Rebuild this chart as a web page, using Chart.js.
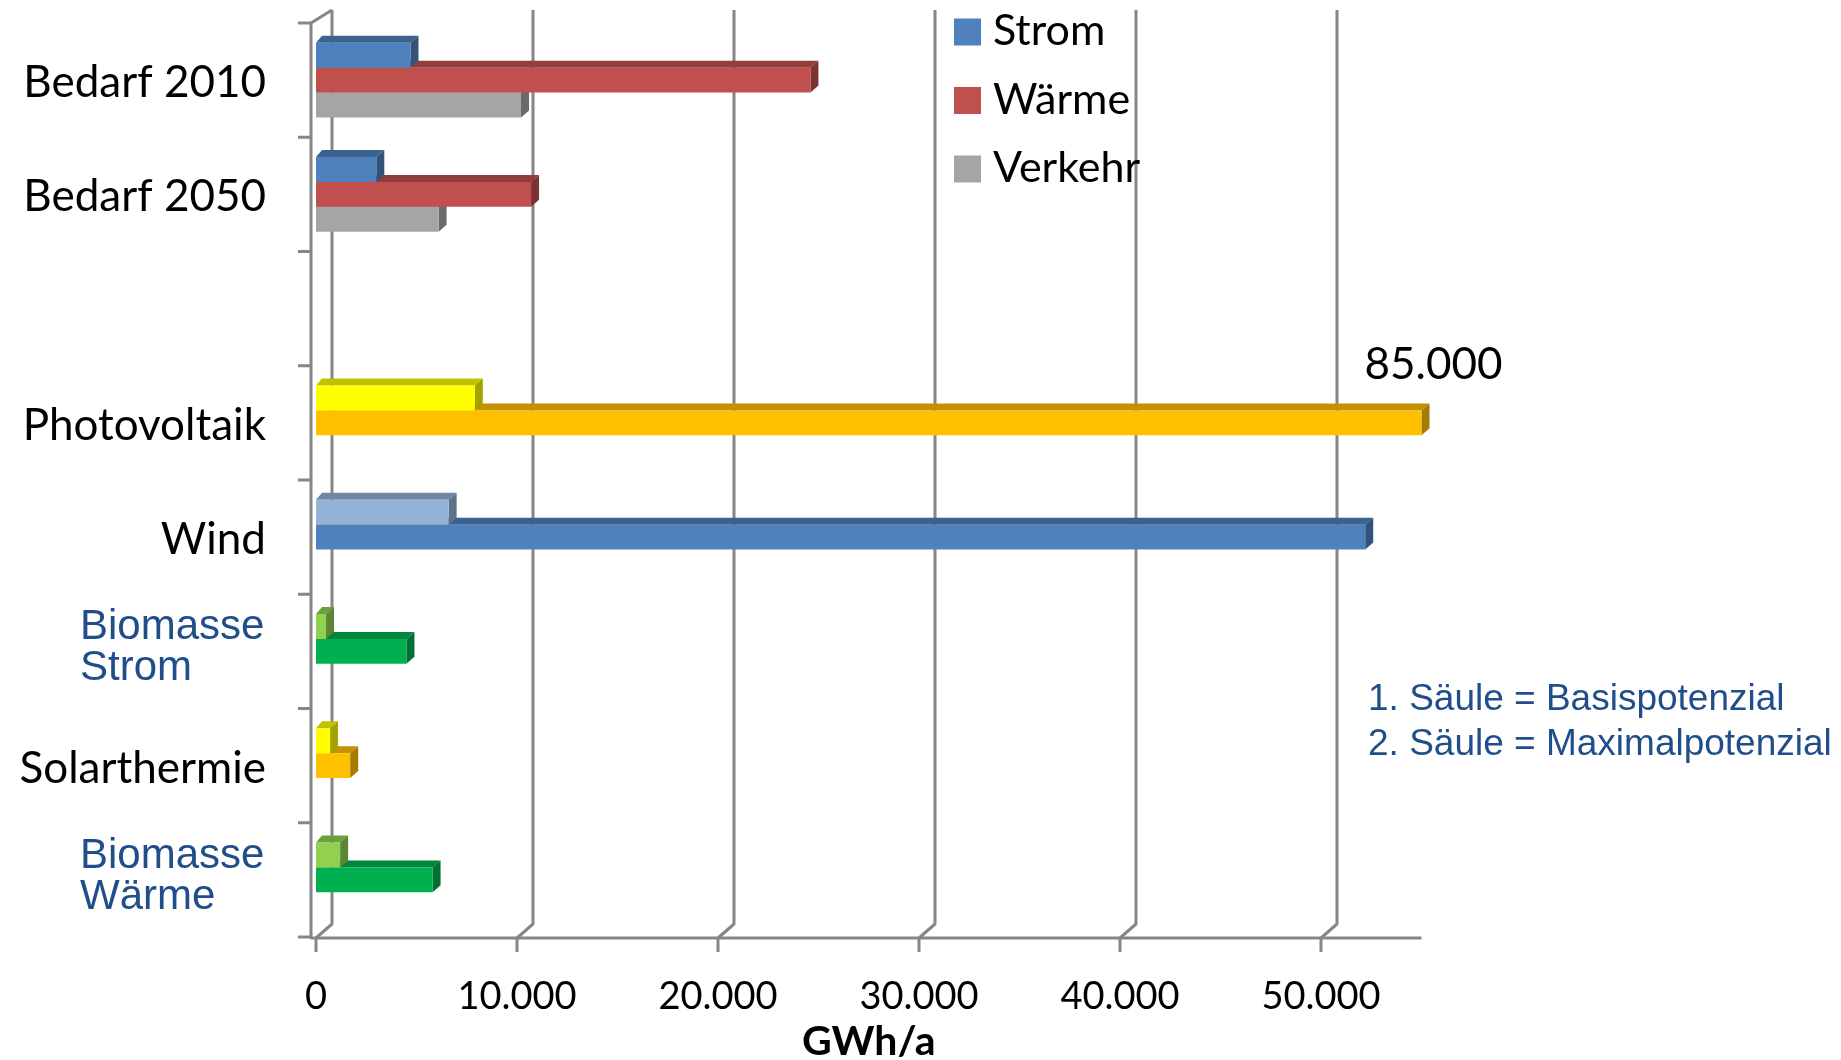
<!DOCTYPE html>
<html>
<head>
<meta charset="utf-8">
<script src="https://cdn.jsdelivr.net/npm/chart.js@4/dist/chart.umd.min.js"></script>
<style>
  html, body { margin: 0; padding: 0; background: #ffffff; }
  #wrap { position: relative; width: 1841px; height: 1060px; }
</style>
</head>
<body>
<div id="wrap"><canvas id="chart" width="1841" height="1060"></canvas></div>
<script>
// ---- data (GWh/a) ----
const categories = ['Bedarf 2010', 'Bedarf 2050', '', 'Photovoltaik', 'Wind',
                    ['Biomasse', 'Strom'], 'Solarthermie', ['Biomasse', 'Wärme']];
// 1st column: Strom (Bedarf) / Basispotenzial
const firstColumn  = [4700, 3000, null, 7900, 6600, 500, 700, 1200];
// 2nd column: Wärme (Bedarf) / Maximalpotenzial
const secondColumn = [24600, 10700, null, 85000, 52200, 4500, 1700, 5800];
// 3rd column: Verkehr (Bedarf only)
const thirdColumn  = [10200, 6100, null, null, null, null, null, null];
const xTickValues  = [0, 10000, 20000, 30000, 40000, 50000];
const legendLabels = ['Strom', 'Wärme', 'Verkehr'];
const noteLines    = ['1. Säule = Basispotenzial', '2. Säule = Maximalpotenzial'];
const axisTitle    = 'GWh/a';

// ---- colours ----
const firstColors  = ['#4F81BD', '#4F81BD', null, '#FFFF00', '#95B3D7', '#92D050', '#FFFF00', '#92D050'];
const secondColors = ['#C0504D', '#C0504D', null, '#FFC000', '#4F81BD', '#00B050', '#FFC000', '#00B050'];
const thirdColors  = ['#A5A5A5', '#A5A5A5', null, null, null, null, null, null];
const legendColors = ['#4F81BD', '#C0504D', '#A5A5A5'];
const noteBlue = '#1F4E8A';
const frameGray = '#868686';

const X_MAX = 55000;
const BAR_DX = 8, BAR_DY = 7;      // depth of the 3D bars
const WALL_DX = 16, WALL_DY = 14;  // depth of the back wall

function fmt(v) {
  return String(Math.round(v)).replace(/\B(?=(\d{3})+(?!\d))/g, '.');
}
function shade(hex, f) {
  const n = parseInt(hex.slice(1), 16);
  const r = Math.round(((n >> 16) & 255) * f);
  const g = Math.round(((n >> 8) & 255) * f);
  const b = Math.round((n & 255) * f);
  return `rgb(${r},${g},${b})`;
}

// back wall grid, floor edges and front axes
const frame3d = {
  id: 'frame3d',
  beforeDatasetsDraw(chart) {
    const { ctx, chartArea: a, scales: { x, y } } = chart;
    const axisX = a.left - 5;
    const baseY = a.bottom + 1;
    ctx.save();
    ctx.strokeStyle = frameGray;
    ctx.lineWidth = 3;
    ctx.lineCap = 'butt';
    ctx.lineJoin = 'round';
    xTickValues.forEach(v => {
      const px = x.getPixelForValue(v);
      ctx.beginPath();
      ctx.moveTo(px, baseY);
      ctx.lineTo(px + WALL_DX, baseY - WALL_DY);
      ctx.lineTo(px + WALL_DX, a.top - WALL_DY + 1);
      ctx.stroke();
      ctx.beginPath();
      ctx.moveTo(px, baseY);
      ctx.lineTo(px, baseY + 14);
      ctx.stroke();
    });
    // front value axis
    ctx.beginPath();
    ctx.moveTo(axisX, baseY);
    ctx.lineTo(a.right, baseY);
    ctx.stroke();
    // front category axis with top edge to the wall
    ctx.beginPath();
    ctx.moveTo(axisX + WALL_DX + 5, a.top - WALL_DY + 1);
    ctx.lineTo(axisX, a.top);
    ctx.lineTo(axisX, baseY + 1);
    ctx.stroke();
    // category separators
    const n = categories.length;
    for (let i = 0; i <= n; i++) {
      const py = i === n ? a.bottom : (i === 0 ? a.top : (y.getPixelForValue(i - 1) + y.getPixelForValue(i)) / 2);
      ctx.beginPath();
      ctx.moveTo(axisX - 13, py);
      ctx.lineTo(axisX, py);
      ctx.stroke();
    }
    ctx.restore();
  }
};

// top and side faces of each bar
const faces3d = {
  id: 'faces3d',
  beforeDatasetDraw(chart, args) {
    const { ctx, chartArea } = chart;
    const ds = chart.data.datasets[args.index];
    ctx.save();
    args.meta.data.forEach((bar, i) => {
      if (ds.data[i] == null) return;
      const { x, y, base, height } = bar.getProps(['x', 'y', 'base', 'height'], true);
      const x0 = base, x1 = Math.min(x, chartArea.right);
      const yt = y - height / 2, yb = y + height / 2;
      const c = ds.backgroundColor[i];
      ctx.fillStyle = shade(c, 0.76);
      ctx.beginPath();
      ctx.moveTo(x0, yt);
      ctx.lineTo(x0 + BAR_DX - 2, yt - BAR_DY);
      ctx.lineTo(x1 + BAR_DX, yt - BAR_DY);
      ctx.lineTo(x1, yt);
      ctx.closePath();
      ctx.fill();
      ctx.fillStyle = shade(c, 0.64);
      ctx.beginPath();
      ctx.moveTo(x1, yt);
      ctx.lineTo(x1 + BAR_DX, yt - BAR_DY);
      ctx.lineTo(x1 + BAR_DX, yb - BAR_DY);
      ctx.lineTo(x1, yb);
      ctx.closePath();
      ctx.fill();
    });
    ctx.restore();
  }
};

// category labels, legend, notes and value of bars beyond the axis
const decor = {
  id: 'decor',
  afterDraw(chart) {
    const { ctx, chartArea: a, scales: { y } } = chart;
    ctx.save();
    categories.forEach((lab, i) => {
      const yc = y.getPixelForValue(i);
      if (Array.isArray(lab)) {
        ctx.font = '42px "Liberation Sans", Arial, sans-serif';
        ctx.fillStyle = noteBlue;
        ctx.textAlign = 'left';
        ctx.textBaseline = 'alphabetic';
        ctx.fillText(lab[0], 80, yc - 12);
        ctx.fillText(lab[1], 80, yc + 29);
      } else if (lab) {
        ctx.font = '44px Lato, "Open Sans", sans-serif';
        ctx.fillStyle = '#000000';
        ctx.textAlign = 'right';
        ctx.textBaseline = 'alphabetic';
        ctx.fillText(lab, 266, yc + 17);
      }
    });

    // legend
    legendLabels.forEach((lab, k) => {
      const cy = 32 + k * 68.5;
      ctx.fillStyle = legendColors[k];
      ctx.fillRect(954, cy - 13.5, 27, 27);
      ctx.font = '43px Lato, "Open Sans", sans-serif';
      ctx.fillStyle = '#000000';
      ctx.textAlign = 'left';
      ctx.textBaseline = 'alphabetic';
      ctx.fillText(lab, 993, cy + 13);
    });

    // notes
    ctx.font = '37px "Liberation Sans", Arial, sans-serif';
    ctx.fillStyle = noteBlue;
    ctx.textAlign = 'left';
    noteLines.forEach((t, k) => ctx.fillText(t, 1368, 710 + k * 45));

    // values of bars cut off at the axis end
    chart.data.datasets.forEach((ds, di) => {
      const meta = chart.getDatasetMeta(di);
      ds.data.forEach((v, i) => {
        if (v == null || v <= X_MAX) return;
        const bar = meta.data[i];
        const { height, y: by } = bar.getProps(['y', 'height'], true);
        ctx.font = '44px Lato, "Open Sans", sans-serif';
        ctx.fillStyle = '#000000';
        ctx.textAlign = 'center';
        ctx.textBaseline = 'alphabetic';
        ctx.fillText(fmt(v), a.right + BAR_DX + 4, by - height / 2 - 31);
      });
    });
    ctx.restore();
  }
};

const common = { borderWidth: 0, barPercentage: 1, categoryPercentage: 0.656, clip: 0 };

new Chart(document.getElementById('chart'), {
  type: 'bar',
  data: {
    labels: categories,
    datasets: [
      Object.assign({ label: legendLabels[0], data: firstColumn,  backgroundColor: firstColors }, common),
      Object.assign({ label: legendLabels[1], data: secondColumn, backgroundColor: secondColors }, common),
      Object.assign({ label: legendLabels[2], data: thirdColumn,  backgroundColor: thirdColors }, common)
    ]
  },
  options: {
    indexAxis: 'y',
    responsive: false,
    animation: false,
    events: [],
    layout: { padding: { left: 0, right: 419.5, top: 23, bottom: 0 } },
    plugins: { legend: { display: false }, tooltip: { enabled: false } },
    scales: {
      y: {
        type: 'category',
        ticks: { display: false },
        grid: { display: false },
        border: { display: false },
        afterFit(s) { s.width = 316; }
      },
      x: {
        type: 'linear',
        min: 0,
        max: X_MAX,
        afterBuildTicks(s) { s.ticks = xTickValues.map(v => ({ value: v })); },
        ticks: {
          callback: v => fmt(v),
          color: '#000000',
          font: { family: 'Lato, "Open Sans", sans-serif', size: 38 },
          padding: 37,
          maxRotation: 0,
          autoSkip: false
        },
        grid: { display: false, drawTicks: false, tickLength: 0 },
        border: { display: false },
        title: {
          display: true,
          text: axisTitle,
          color: '#000000',
          font: { family: 'Lato, "Open Sans", sans-serif', size: 41, weight: 'bold' },
          padding: { top: 0, bottom: -6 }
        },
        afterFit(s) { s.height = 123; }
      }
    }
  },
  plugins: [frame3d, faces3d, decor]
});
</script>
</body>
</html>
